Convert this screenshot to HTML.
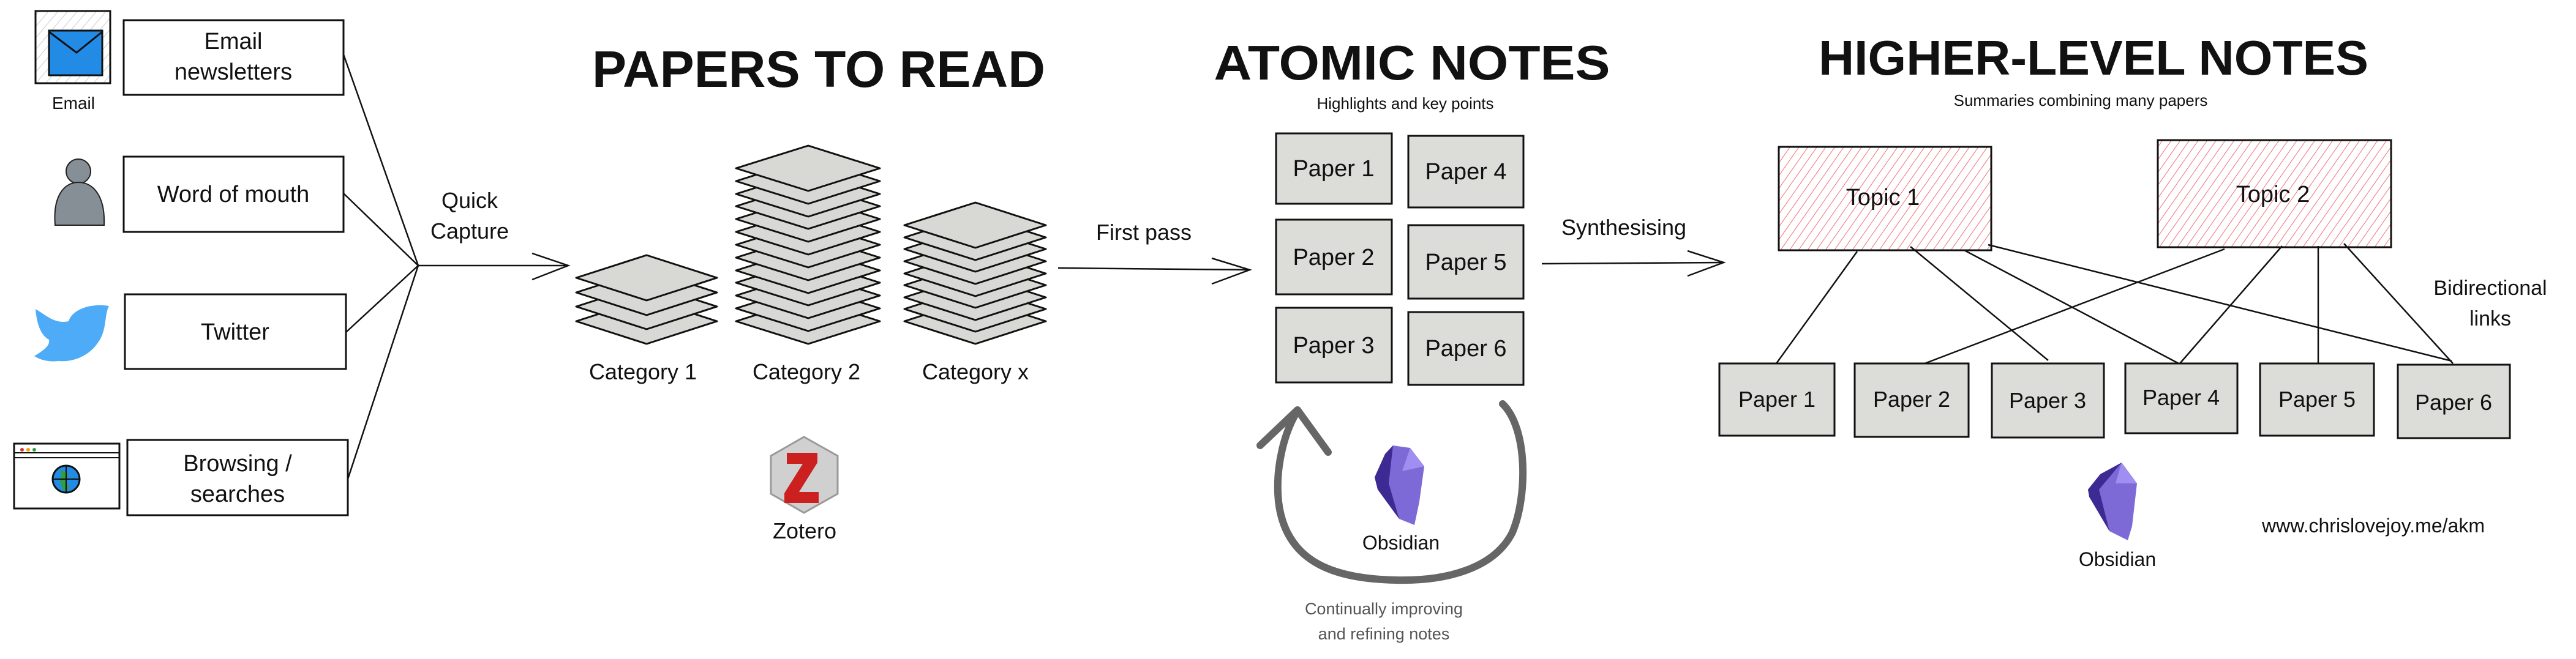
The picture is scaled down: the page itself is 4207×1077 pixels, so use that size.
<!DOCTYPE html>
<html><head><meta charset="utf-8"><style>
html,body{margin:0;padding:0;background:#fff}
svg{display:block}
text{font-family:"Liberation Sans",sans-serif;fill:#111}
</style></head><body>
<svg width="4207" height="1077" viewBox="0 0 4207 1077" xmlns="http://www.w3.org/2000/svg">
<defs>
<pattern id="hatch" width="12" height="12" patternUnits="userSpaceOnUse" patternTransform="rotate(35)">
<line x1="0" y1="0" x2="0" y2="12" stroke="#f07070" stroke-width="2"/>
</pattern>
<pattern id="ghatch" width="12" height="12" patternUnits="userSpaceOnUse" patternTransform="rotate(40)">
<line x1="0" y1="0" x2="0" y2="12" stroke="#c8ccd2" stroke-width="2"/>
</pattern>
</defs>
<rect width="4207" height="1077" fill="#fff"/>

<rect x="58" y="18" width="122" height="118" fill="url(#ghatch)" stroke="#111" stroke-width="3"/>
<rect x="80" y="50" width="87" height="73" fill="#228be6" stroke="#111" stroke-width="3"/>
<polyline points="80,52 125,86 167,52" fill="none" stroke="#111" stroke-width="3"/>
<text x="120" y="178" font-size="28" text-anchor="middle">Email</text>

<circle cx="128" cy="280" r="20" fill="#868e96" stroke="#222" stroke-width="2"/>
<path d="M90,368 C86,320 105,298 128,298 C152,298 172,320 170,368 Z" fill="#868e96" stroke="#222" stroke-width="2"/>

<path d="M58,505 C75,515 90,530 112,525 C118,505 150,495 178,500 C170,515 175,540 160,560 C145,582 120,592 95,590 C80,592 65,588 56,582 C72,572 82,565 80,555 C66,548 60,528 58,505 Z" fill="#4dabf7"/>

<rect x="23" y="725" width="172" height="106" fill="#fff" stroke="#111" stroke-width="3"/>
<line x1="23" y1="740" x2="195" y2="740" stroke="#111" stroke-width="2"/>
<line x1="23" y1="748" x2="195" y2="748" stroke="#111" stroke-width="2"/>
<circle cx="36" cy="735" r="3" fill="#e03131"/><circle cx="46" cy="735" r="3" fill="#f59f00"/><circle cx="56" cy="735" r="3" fill="#2f9e44"/>
<circle cx="108" cy="783" r="22" fill="#228be6" stroke="#111" stroke-width="3"/>
<path d="M100,768 l12,6 -4,14 6,10 -10,4 -6,-14z" fill="#2f9e44"/>
<line x1="86" y1="783" x2="130" y2="783" stroke="#111" stroke-width="2"/>
<line x1="108" y1="761" x2="108" y2="805" stroke="#111" stroke-width="2"/>

<g fill="#fff" stroke="#111" stroke-width="3">
<rect x="202" y="33" width="359" height="122"/>
<rect x="202" y="256" width="359" height="123"/>
<rect x="204" y="481" width="361" height="122"/>
<rect x="208" y="719" width="360" height="123"/>
</g>
<g font-size="38" text-anchor="middle">
<text x="381" y="80">Email</text>
<text x="381" y="130">newsletters</text>
<text x="381" y="330">Word of mouth</text>
<text x="384" y="555">Twitter</text>
<text x="388" y="770">Browsing /</text>
<text x="388" y="820">searches</text>
</g>

<g stroke="#111" stroke-width="2.5" fill="none">
<line x1="561" y1="89" x2="683" y2="434"/>
<line x1="561" y1="316" x2="683" y2="434"/>
<line x1="565" y1="543" x2="683" y2="434"/>
<line x1="568" y1="783" x2="683" y2="434"/>
<line x1="683" y1="434" x2="928" y2="434"/>
<polyline points="869,414 928,434 869,457"/>
</g>
<text x="767" y="340" font-size="36" text-anchor="middle">Quick</text>
<text x="767" y="390" font-size="36" text-anchor="middle">Capture</text>

<text x="1337" y="142" font-size="84" font-weight="bold" text-anchor="middle" textLength="740" lengthAdjust="spacingAndGlyphs">PAPERS TO READ</text>

<g fill="#d8d8d4" stroke="#111" stroke-width="3" stroke-linejoin="round">
<polygon points="941,525 1056,488 1171,525 1056,562"/>
<polygon points="941,501 1056,464 1171,501 1056,538"/>
<polygon points="941,478 1056,441 1171,478 1056,515"/>
<polygon points="941,454 1056,417 1171,454 1056,491"/>
<polygon points="1202,525 1320,488 1437,525 1320,562"/>
<polygon points="1202,504 1320,467 1437,504 1320,541"/>
<polygon points="1202,483 1320,446 1437,483 1320,520"/>
<polygon points="1202,462 1320,425 1437,462 1320,499"/>
<polygon points="1202,442 1320,405 1437,442 1320,479"/>
<polygon points="1202,421 1320,384 1437,421 1320,458"/>
<polygon points="1202,400 1320,363 1437,400 1320,437"/>
<polygon points="1202,379 1320,342 1437,379 1320,416"/>
<polygon points="1202,358 1320,321 1437,358 1320,395"/>
<polygon points="1202,337 1320,300 1437,337 1320,374"/>
<polygon points="1202,317 1320,280 1437,317 1320,354"/>
<polygon points="1202,296 1320,259 1437,296 1320,333"/>
<polygon points="1202,275 1320,238 1437,275 1320,312"/>
<polygon points="1477,525 1593,488 1708,525 1593,562"/>
<polygon points="1477,505 1593,468 1708,505 1593,542"/>
<polygon points="1477,486 1593,449 1708,486 1593,523"/>
<polygon points="1477,466 1593,429 1708,466 1593,503"/>
<polygon points="1477,447 1593,410 1708,447 1593,484"/>
<polygon points="1477,427 1593,390 1708,427 1593,464"/>
<polygon points="1477,407 1593,370 1708,407 1593,444"/>
<polygon points="1477,388 1593,351 1708,388 1593,425"/>
<polygon points="1477,368 1593,331 1708,368 1593,405"/>
</g>
<g font-size="36" text-anchor="middle">
<text x="1050" y="620">Category 1</text>
<text x="1317" y="620">Category 2</text>
<text x="1593" y="620">Category x</text>
</g>

<polygon points="1313,714 1368,745 1368,807 1313,838 1259,807 1259,745" fill="#d0d0d0" stroke="#999" stroke-width="3"/>
<path d="M1285,740 h50 v16 l-30,48 h32 v18 h-56 v-16 l30,-48 h-26z" fill="#cc2020"/>
<text x="1314" y="880" font-size="36" text-anchor="middle">Zotero</text>

<text x="1868" y="392" font-size="36" text-anchor="middle">First pass</text>
<g stroke="#111" stroke-width="2.5" fill="none">
<line x1="1728" y1="438" x2="2041" y2="441"/>
<polyline points="1979,422 2041,441 1979,464"/>
</g>

<text x="2306" y="130" font-size="80" font-weight="bold" text-anchor="middle" textLength="647" lengthAdjust="spacingAndGlyphs">ATOMIC NOTES</text>
<text x="2295" y="178" font-size="26" text-anchor="middle">Highlights and key points</text>
<g fill="#dcdcd8" stroke="#111" stroke-width="3">
<rect x="2084" y="218" width="189" height="115"/>
<rect x="2084" y="359" width="189" height="122"/>
<rect x="2084" y="503" width="189" height="122"/>
<rect x="2300" y="222" width="188" height="117"/>
<rect x="2300" y="368" width="188" height="120"/>
<rect x="2300" y="510" width="188" height="119"/>
</g>
<g font-size="38" text-anchor="middle">
<text x="2178" y="288">Paper 1</text>
<text x="2178" y="433">Paper 2</text>
<text x="2178" y="577">Paper 3</text>
<text x="2394" y="293">Paper 4</text>
<text x="2394" y="441">Paper 5</text>
<text x="2394" y="582">Paper 6</text>
</g>

<path d="M2454,660 C2495,700 2495,810 2470,870 C2440,930 2360,950 2280,948 C2180,946 2100,920 2088,820 C2082,760 2100,700 2119,672" fill="none" stroke="#666" stroke-width="12" stroke-linecap="round"/>
<polyline points="2058,728 2119,670 2169,739" fill="none" stroke="#666" stroke-width="12" stroke-linecap="round" stroke-linejoin="round"/>
<polygon points="2275,728 2303,732 2326,762 2318,820 2310,858 2285,848 2250,800 2245,780 2262,742" fill="#7e6ad6"/>
<polygon points="2275,728 2262,742 2245,780 2250,800 2285,848 2268,790" fill="#3d2a92"/>
<polygon points="2303,732 2326,762 2290,770" fill="#a08ff0"/>
<text x="2288" y="898" font-size="32" text-anchor="middle">Obsidian</text>
<text x="2260" y="1004" font-size="27" text-anchor="middle" style="fill:#555">Continually improving</text>
<text x="2260" y="1045" font-size="27" text-anchor="middle" style="fill:#555">and refining notes</text>

<text x="2652" y="384" font-size="36" text-anchor="middle">Synthesising</text>
<g stroke="#111" stroke-width="2.5" fill="none">
<line x1="2518" y1="431" x2="2815" y2="429"/>
<polyline points="2756,410 2815,429 2756,451"/>
</g>

<text x="3419" y="122" font-size="80" font-weight="bold" text-anchor="middle" textLength="898" lengthAdjust="spacingAndGlyphs">HIGHER-LEVEL NOTES</text>
<text x="3398" y="173" font-size="26" text-anchor="middle">Summaries combining many papers</text>

<g stroke="#111" stroke-width="3">
<rect x="2905" y="240" width="347" height="169" fill="url(#hatch)"/>
<rect x="3524" y="229" width="381" height="175" fill="url(#hatch)"/>
</g>
<text x="3075" y="335" font-size="38" text-anchor="middle">Topic 1</text>
<text x="3712" y="330" font-size="38" text-anchor="middle">Topic 2</text>

<g stroke="#111" stroke-width="2.5">
<line x1="3033" y1="411" x2="2901" y2="594"/>
<line x1="3120" y1="403" x2="3345" y2="589"/>
<line x1="3208" y1="409" x2="3558" y2="594"/>
<line x1="3247" y1="400" x2="4004" y2="590"/>
<line x1="3633" y1="407" x2="3133" y2="598"/>
<line x1="3727" y1="402" x2="3560" y2="594"/>
<line x1="3786" y1="402" x2="3786" y2="594"/>
<line x1="3828" y1="398" x2="4006" y2="594"/>
</g>
<g fill="#dcdcd8" stroke="#111" stroke-width="3">
<rect x="2808" y="594" width="188" height="118"/>
<rect x="3029" y="594" width="186" height="120"/>
<rect x="3253" y="594" width="183" height="121"/>
<rect x="3471" y="594" width="183" height="114"/>
<rect x="3691" y="594" width="186" height="118"/>
<rect x="3916" y="596" width="183" height="120"/>
</g>
<g font-size="36" text-anchor="middle">
<text x="2902" y="665">Paper 1</text>
<text x="3122" y="665">Paper 2</text>
<text x="3344" y="667">Paper 3</text>
<text x="3562" y="662">Paper 4</text>
<text x="3784" y="665">Paper 5</text>
<text x="4007" y="670">Paper 6</text>
</g>
<text x="4067" y="482" font-size="34" text-anchor="middle">Bidirectional</text>
<text x="4067" y="532" font-size="34" text-anchor="middle">links</text>

<polygon points="3465,756 3490,790 3482,860 3475,883 3445,868 3412,812 3410,800 3430,775" fill="#7e6ad6"/>
<polygon points="3465,756 3430,775 3410,800 3412,812 3445,868 3428,800" fill="#3d2a92"/>
<polygon points="3465,756 3490,790 3455,790" fill="#a08ff0"/>
<text x="3458" y="925" font-size="32" text-anchor="middle">Obsidian</text>
<text x="3876" y="870" font-size="32" text-anchor="middle">www.chrislovejoy.me/akm</text>
</svg>
</body></html>
